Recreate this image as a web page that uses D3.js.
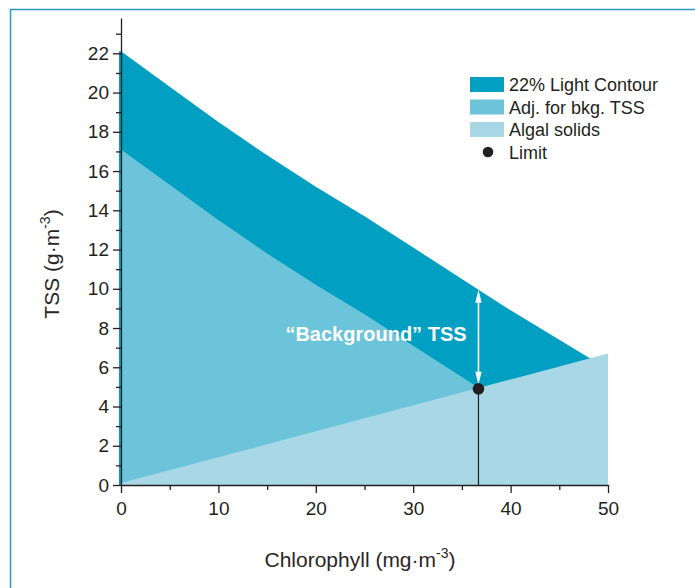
<!DOCTYPE html>
<html lang="en">
<head>
<meta charset="utf-8">
<title>TSS vs Chlorophyll</title>
<script src="https://cdnjs.cloudflare.com/ajax/libs/d3/7.8.5/d3.min.js"></script>
<style>
  body { margin: 0; background: #fff; }
  * { font-family: "Liberation Sans", Arial, sans-serif; }
  .axis text { font-size: 19px; fill: #231f20; }
  .axis path, .axis line { stroke: #231f20; stroke-width: 1.3px; }
  .legend text { font-size: 18px; fill: #231f20; }
  .title { fill: #2a2627; }
</style>
</head>
<body>
<div id="vis"></div>
<script>
  // chlorophyll (mg/m3) and TSS (g/m3)
  var chl = [0, 5, 10, 15, 20, 25, 30, 35, 40, 45, 50];
  var lightContour = [22.1, 20.3, 18.5, 16.8, 15.2, 13.7, 12.1, 10.5, 8.9, 7.4, 5.9];
  var adjBkg = [17.1, 15.3, 13.5, 11.8, 10.2, 8.7, 7.1, 5.5, 3.9, 2.4, 0.9];
  var algalChl = [0, 50];
  var algalTss = [0.1, 6.7];
  var limitChl = 36.7, limitTss = 4.9, bkgTop = 9.95;

  var xTicks = [0, 10, 20, 30, 40, 50];
  var xMinor = [5, 15, 25, 35, 45];
  var yTicks = [0, 2, 4, 6, 8, 10, 12, 14, 16, 18, 20, 22];
  var yMinor = [1, 3, 5, 7, 9, 11, 13, 15, 17, 19, 21, 23];

  var legendLabels = ['22% Light Contour', 'Adj. for bkg. TSS', 'Algal solids', 'Limit'];
  var colors = ['#019fc2', '#6bc4da', '#a8d8e6'];

  var width = 695, height = 588;

  var svg = d3.select('#vis').append('svg')
      .attr('width', width)
      .attr('height', height);

  // frame
  svg.append('path')
      .attr('d', 'M10.5,' + height + 'V9.5H' + width)
      .attr('fill', 'none')
      .attr('stroke', '#2b9abf')
      .attr('stroke-width', 1.5);

  var x = d3.scaleLinear().domain([0, 50]).range([121, 608]);
  var y = d3.scaleLinear().domain([0, 23.8]).range([485, 18]);

  function series(xs, ys) {
    return xs.map(function(d, i) { return {x: d, y: ys[i]}; });
  }

  var area = d3.area()
      .x(function(d) { return x(d.x); })
      .y0(y(0))
      .y1(function(d) { return y(d.y); });

  var layers = [series(chl, lightContour), series(chl, adjBkg), series(algalChl, algalTss)];

  svg.selectAll('.layer')
      .data(layers)
      .enter()
      .append('path')
      .attr('class', 'layer')
      .attr('fill', function(d, i) { return colors[i]; })
      .attr('d', area);

  // thin strip of the contour colour peeking out left of the axis
  svg.append('line')
      .attr('x1', x(0) - 1).attr('x2', x(0) - 1)
      .attr('y1', y(lightContour[0])).attr('y2', y(0))
      .attr('stroke', colors[0]).attr('stroke-width', 2);

  // limit marker: drop line, dot, background arrow
  svg.append('line')
      .attr('x1', x(limitChl)).attr('x2', x(limitChl))
      .attr('y1', y(limitTss)).attr('y2', y(0))
      .attr('stroke', '#231f20').attr('stroke-width', 1.2);

  var ax = x(limitChl), aTop = y(bkgTop), aBot = y(limitTss) - 4;
  svg.append('line')
      .attr('x1', ax).attr('x2', ax)
      .attr('y1', aTop + 6).attr('y2', aBot - 6)
      .attr('stroke', '#fff').attr('stroke-width', 1.6);
  svg.append('path')
      .attr('d', 'M' + ax + ',' + aTop + 'l-3.2,13h6.4z' + 'M' + ax + ',' + aBot + 'l-3.2,-13h6.4z')
      .attr('fill', '#fff');

  svg.append('circle')
      .attr('cx', x(limitChl)).attr('cy', y(limitTss))
      .attr('r', 5.8)
      .attr('fill', '#231f20');

  svg.append('text')
      .attr('x', 376).attr('y', 341)
      .attr('text-anchor', 'middle')
      .attr('fill', '#fff')
      .style('font-size', '20px')
      .style('font-weight', 'bold')
      .text('\u201cBackground\u201d TSS');

  // axes
  svg.append('g')
      .attr('class', 'axis')
      .attr('transform', 'translate(0,' + y(0) + ')')
      .call(d3.axisBottom(x).tickValues(xTicks).tickSize(8).tickSizeOuter(0).tickPadding(9));
  svg.append('g')
      .attr('class', 'axis')
      .attr('transform', 'translate(0,' + y(0) + ')')
      .call(d3.axisBottom(x).tickValues(xMinor).tickSize(5).tickFormat(''))
      .select('.domain').remove();

  svg.append('g')
      .attr('class', 'axis')
      .attr('transform', 'translate(' + x(0) + ',0)')
      .call(d3.axisLeft(y).tickValues(yTicks).tickSize(8).tickSizeOuter(0).tickPadding(4));
  svg.append('g')
      .attr('class', 'axis')
      .attr('transform', 'translate(' + x(0) + ',0)')
      .call(d3.axisLeft(y).tickValues(yMinor).tickSize(5).tickFormat(''))
      .select('.domain').remove();

  // axis titles
  var xt = svg.append('text')
      .attr('class', 'title')
      .attr('x', 360).attr('y', 567)
      .attr('text-anchor', 'middle')
      .style('font-size', '21px');
  xt.append('tspan').text('Chlorophyll (mg\u00b7m');
  xt.append('tspan').attr('dy', -9).style('font-size', '14px').text('-3');
  xt.append('tspan').attr('dy', 9).text(')');

  var yt = svg.append('text')
      .attr('class', 'title')
      .attr('transform', 'translate(59,264) rotate(-90)')
      .attr('text-anchor', 'middle')
      .style('font-size', '21px');
  yt.append('tspan').text('TSS (g\u00b7m');
  yt.append('tspan').attr('dy', -9).style('font-size', '14px').text('-3');
  yt.append('tspan').attr('dy', 9).text(')');

  // legend
  var legend = svg.append('g').attr('class', 'legend');
  var rows = legend.selectAll('g')
      .data(legendLabels)
      .enter()
      .append('g')
      .attr('transform', function(d, i) { return 'translate(470,' + (77 + i * 22.5) + ')'; });

  rows.filter(function(d, i) { return i < 3; })
      .append('rect')
      .attr('width', 34).attr('height', 15)
      .attr('fill', function(d, i) { return colors[i]; });
  rows.filter(function(d, i) { return i === 3; })
      .append('circle')
      .attr('cx', 18).attr('cy', 7.5).attr('r', 5.3)
      .attr('fill', '#231f20');
  rows.append('text')
      .attr('x', 39).attr('y', 14)
      .text(function(d) { return d; });
</script>
</body>
</html>
